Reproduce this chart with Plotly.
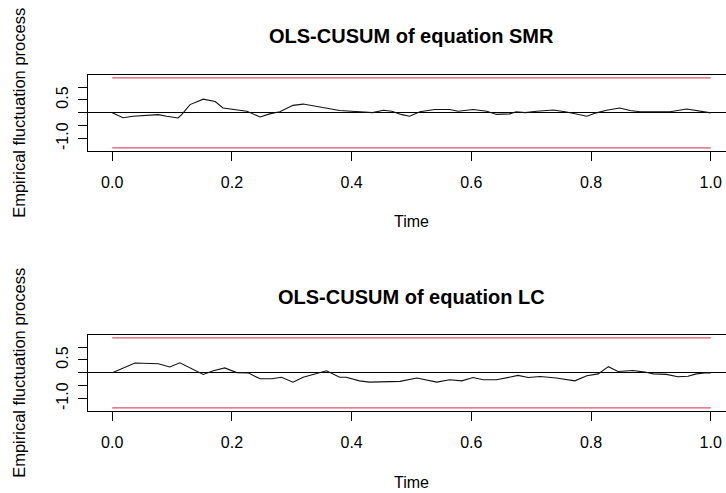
import plotly.graph_objects as go

# ---- data ----
smr_time = [0.0, 0.018, 0.035, 0.066, 0.077, 0.091, 0.11, 0.116, 0.13, 0.152, 0.172, 0.185,
            0.208, 0.225, 0.247, 0.263, 0.28, 0.302, 0.319, 0.34, 0.357, 0.38, 0.40, 0.425,
            0.435, 0.453, 0.467, 0.484, 0.497, 0.514, 0.539, 0.564, 0.578, 0.603, 0.626,
            0.642, 0.664, 0.675, 0.69, 0.709, 0.737, 0.759, 0.776, 0.793, 0.809, 0.826,
            0.848, 0.865, 0.882, 0.915, 0.932, 0.96, 0.982, 1.0]
smr_value = [0.0, -0.19, -0.13, -0.10, -0.07, -0.13, -0.20, -0.07, 0.32, 0.53, 0.44, 0.19,
             0.10, 0.06, -0.16, -0.04, 0.04, 0.29, 0.34, 0.25, 0.19, 0.09, 0.06, 0.03,
             0.01, 0.10, 0.06, -0.07, -0.13, 0.04, 0.13, 0.13, 0.06, 0.13, 0.06,
             -0.06, -0.04, 0.04, 0.01, 0.06, 0.11, 0.03, -0.06, -0.13, 0.0, 0.10,
             0.19, 0.09, 0.04, 0.04, 0.04, 0.15, 0.06, 0.0]

lc_time = [0.0, 0.038, 0.077, 0.096, 0.113, 0.13, 0.152, 0.169, 0.188, 0.208, 0.227, 0.247,
           0.266, 0.283, 0.302, 0.319, 0.336, 0.358, 0.38, 0.391, 0.413, 0.43, 0.481,
           0.509, 0.542, 0.564, 0.584, 0.603, 0.62, 0.642, 0.678, 0.695, 0.715, 0.742,
           0.773, 0.793, 0.812, 0.829, 0.845, 0.87, 0.89, 0.904, 0.926, 0.945, 0.962,
           0.976, 0.99, 1.0]
lc_value = [0.0, 0.38, 0.35, 0.23, 0.39, 0.19, -0.06, 0.08, 0.19, 0.01, 0.0, -0.23,
            -0.23, -0.17, -0.36, -0.17, -0.06, 0.08, -0.17, -0.17, -0.31, -0.36, -0.33,
            -0.20, -0.36, -0.27, -0.31, -0.18, -0.27, -0.27, -0.10, -0.18, -0.14, -0.20,
            -0.31, -0.11, -0.04, 0.24, 0.05, 0.09, 0.03, -0.04, -0.06, -0.15, -0.13,
            -0.04, 0.0, 0.0]

boundary = 1.358
boundary_time = [0.0, 1.0]

titles = ["OLS-CUSUM of equation SMR", "OLS-CUSUM of equation LC"]
x_title = "Time"
y_title = "Empirical fluctuation process"
x_tickvals = [0.0, 0.2, 0.4, 0.6, 0.8, 1.0]
x_ticktext = ["0.0", "0.2", "0.4", "0.6", "0.8", "1.0"]
y_tickvals = [-1.0, -0.5, 0.0, 0.5, 1.0]
y_ticktext = ["-1.0", "", "", "0.5", ""]

# ---- layout constants ----
W, H = 726, 493
FONT = "Liberation Sans, Arial, sans-serif"
RED = "#DF536B"
box_left = 88.3
panels = [(75.0, 150.7), (335.0, 410.7)]   # top, bottom px of each plot box

fig = go.Figure()
series = [(smr_time, smr_value), (lc_time, lc_value)]

for i, ((t, v), (top, bot)) in enumerate(zip(series, panels)):
    xa = "x" if i == 0 else "x2"
    ya = "y" if i == 0 else "y2"
    for sgn in (1, -1):
        fig.add_trace(go.Scatter(x=boundary_time, y=[sgn * boundary] * 2, mode="lines",
                                 line=dict(color=RED, width=1.2), xaxis=xa, yaxis=ya,
                                 showlegend=False, hoverinfo="skip"))
    fig.add_trace(go.Scatter(x=t, y=v, mode="lines", line=dict(color="#111111", width=1.1),
                             xaxis=xa, yaxis=ya, showlegend=False))

    ydom = [(H - bot) / H, (H - top) / H]
    xaxis = dict(domain=[box_left / W, 1.0], range=[-0.04, 1.0255],
                 tickvals=x_tickvals, ticktext=x_ticktext, ticks="outside", ticklen=9,
                 tickcolor="#000", tickwidth=1, showline=True, linecolor="#000", linewidth=1,
                 mirror=True, showgrid=False, zeroline=False,
                 tickfont=dict(family=FONT, size=16, color="#000"),
                 ticklabelstandoff=8, anchor=ya, automargin=False, fixedrange=True)
    yaxis = dict(domain=ydom, range=[-1.467, 1.467],
                 tickvals=y_tickvals, ticktext=y_ticktext, ticks="outside", ticklen=9,
                 tickcolor="#000", tickwidth=1, showline=True, linecolor="#000", linewidth=1,
                 mirror=False, showgrid=False, zeroline=True, zerolinecolor="#000",
                 zerolinewidth=1, tickangle=-90,
                 tickfont=dict(family=FONT, size=16, color="#000"),
                 ticklabelstandoff=4, anchor=xa, automargin=False, fixedrange=True)
    if i == 0:
        fig.update_layout(xaxis=xaxis, yaxis=yaxis)
    else:
        fig.update_layout(xaxis2=xaxis, yaxis2=yaxis)

    # titles
    fig.add_annotation(text="<b>" + titles[i] + "</b>", xref=xa, x=0.5, yref="paper",
                       y=(H - (top - 38.5)) / H, yanchor="middle", xanchor="center",
                       showarrow=False, font=dict(family=FONT, size=20, color="#000"))
    fig.add_annotation(text=x_title, xref=xa, x=0.5, yref="paper",
                       y=(H - (bot + 71.3)) / H, yanchor="middle", xanchor="center",
                       showarrow=False, font=dict(family=FONT, size=16, color="#000"))
    fig.add_annotation(text=y_title, xref="paper", x=19 / W, yref=ya + " domain", y=0.5,
                       xanchor="center", yanchor="middle", textangle=-90,
                       showarrow=False, font=dict(family=FONT, size=16.5, color="#000"))

fig.update_layout(width=W, height=H, margin=dict(l=0, r=0, t=0, b=0),
                  plot_bgcolor="white", paper_bgcolor="white", showlegend=False)

fig.write_html("out.html", config={"displayModeBar": False})
